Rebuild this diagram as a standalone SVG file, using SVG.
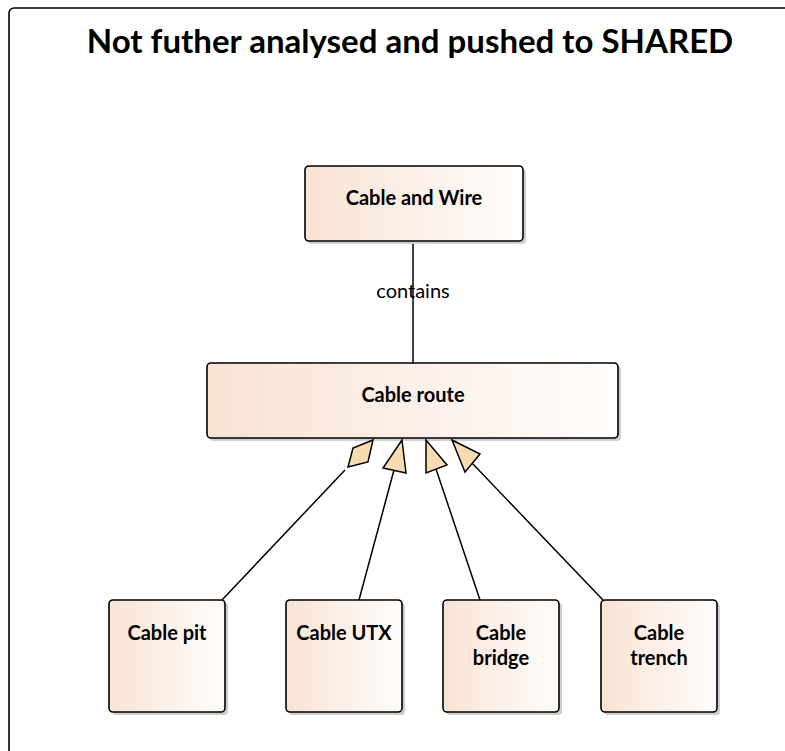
<svg xmlns="http://www.w3.org/2000/svg" width="785" height="751" viewBox="0 0 785 751">
<defs>
<linearGradient id="g" x1="0" y1="0" x2="1" y2="0">
<stop offset="0" stop-color="#f8e3d4"/>
<stop offset="1" stop-color="#fffdfc"/>
</linearGradient>
<style>
.box{fill:url(#g);stroke:#000;stroke-width:1.6}
.sh{fill:#cdcdd4}
.lbl{font-family:Lato,"Liberation Sans",sans-serif;font-weight:bold;font-size:20px;fill:#000;text-anchor:middle}
.ttl{font-family:Lato,"Liberation Sans",sans-serif;font-weight:bold;font-size:33px;fill:#000;text-anchor:middle}
.cl{font-family:Lato,"Liberation Sans",sans-serif;font-size:20px;fill:#000;text-anchor:middle}
.ln{stroke:#000;stroke-width:1.5;fill:none}
.ah{fill:#f7dcb2;stroke:#000;stroke-width:1.5;stroke-linejoin:miter}
</style>
</defs>
<rect x="9" y="8" width="800" height="780" rx="5" fill="#fff" stroke="#000" stroke-width="1.6"/>
<text class="ttl" x="410" y="53">Not futher analysed and pushed to SHARED</text>

<g id="connectors">
<line class="ln" x1="413" y1="241" x2="413" y2="363"/>
<text class="cl" x="413" y="298">contains</text>
<polyline class="ln" points="222,600 345,470"/>
<line class="ln" x1="394" y1="470" x2="359" y2="600"/>
<line class="ln" x1="436" y1="469" x2="480" y2="600"/>
<line class="ln" x1="472" y1="463" x2="603" y2="600"/>
</g>

<g id="cable-and-wire">
<rect class="sh" x="308" y="169" width="218" height="75" rx="4"/>
<rect class="box" x="305" y="166" width="218" height="75" rx="4"/>
<text class="lbl" x="414" y="205">Cable and Wire</text>
</g>

<g id="cable-route">
<rect class="sh" x="210" y="366" width="411" height="75" rx="4"/>
<rect class="box" x="207" y="363" width="411" height="75" rx="4"/>
<text class="lbl" x="413" y="402">Cable route</text>
</g>

<g id="arrowheads">
<polygon class="ah" points="373,440 353,448 348,467 368,462"/>
<polygon class="ah" points="402,440 383,468 406,473"/>
<polygon class="ah" points="426,440 426,473 447,465"/>
<polygon class="ah" points="452,440 480,454 465,472"/>
</g>

<g id="cable-pit">
<rect class="sh" x="112" y="603" width="116" height="112" rx="4"/>
<rect class="box" x="109" y="600" width="116" height="112" rx="4"/>
<text class="lbl" x="167" y="640">Cable pit</text>
</g>

<g id="cable-utx">
<rect class="sh" x="289" y="603" width="116" height="112" rx="4"/>
<rect class="box" x="286" y="600" width="116" height="112" rx="4"/>
<text class="lbl" x="344" y="640">Cable UTX</text>
</g>

<g id="cable-bridge">
<rect class="sh" x="446" y="603" width="116" height="112" rx="4"/>
<rect class="box" x="443" y="600" width="116" height="112" rx="4"/>
<text class="lbl" x="501" y="640">Cable</text>
<text class="lbl" x="501" y="665">bridge</text>
</g>

<g id="cable-trench">
<rect class="sh" x="604" y="603" width="116" height="112" rx="4"/>
<rect class="box" x="601" y="600" width="116" height="112" rx="4"/>
<text class="lbl" x="659" y="640">Cable</text>
<text class="lbl" x="659" y="665">trench</text>
</g>
</svg>
